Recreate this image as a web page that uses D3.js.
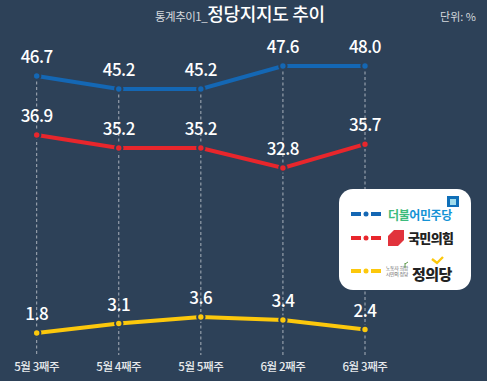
<!DOCTYPE html>
<html>
<head>
<meta charset="utf-8">
<script src="https://cdn.jsdelivr.net/npm/d3@7"></script>
<style>
html, body { margin: 0; padding: 0; background: #2d4158; }
text { font-family: "Noto Sans CJK KR", "Noto Sans", sans-serif; }
</style>
</head>
<body>
<svg id="chart" width="487" height="381"></svg>
<script>
var weeks = ['5월 3째주', '5월 4째주', '5월 5째주', '6월 2째주', '6월 3째주'];
var minjoo = [46.7, 45.2, 45.2, 47.6, 48.0];
var ppp = [36.9, 35.2, 35.2, 32.8, 35.7];
var justice = [1.8, 3.1, 3.6, 3.4, 2.4];

var blue = '#1467b4', red = '#e8262c', yellow = '#fcc80c', bg = '#2d4158';

var svg = d3.select('#chart');
svg.append('rect').attr('width', 487).attr('height', 381).attr('fill', bg);

var x = d3.scalePoint().domain(weeks).range([36.7, 365]);

// the original's vertical axis is not even, so it is piecewise
var y = d3.scaleLinear()
    .domain([1.8, 2.4, 3.1, 3.4, 3.6, 32.8, 35.2, 36.9, 45.2, 46.7, 47.6, 48])
    .range([333, 329.5, 323.5, 320, 317, 168, 148, 135, 89, 76, 66, 66]);

var series = [minjoo, ppp, justice];
var seriesColors = [blue, red, yellow];

// dashed drop lines
svg.selectAll('.drop').data(weeks).enter().append('line')
    .attr('x1', function (d) { return x(d); })
    .attr('x2', function (d) { return x(d); })
    .attr('y1', function (d, i) { return y(minjoo[i]); })
    .attr('y2', 355)
    .attr('stroke', '#a9b1bb')
    .attr('stroke-width', 1)
    .attr('stroke-dasharray', '3,2.5');

var line = d3.line()
    .x(function (d, i) { return x(weeks[i]); })
    .y(function (d) { return y(d); });

series.forEach(function (values, k) {
    var color = seriesColors[k];

    svg.append('path')
        .attr('d', line(values))
        .attr('fill', 'none')
        .attr('stroke', color)
        .attr('stroke-width', 4);

    svg.selectAll(null).data(values).enter().append('circle')
        .attr('cx', function (d, i) { return x(weeks[i]); })
        .attr('cy', function (d) { return y(d); })
        .attr('r', 3.7)
        .attr('fill', color)
        .attr('stroke', bg)
        .attr('stroke-width', 2);

    svg.selectAll(null).data(values).enter().append('text')
        .attr('x', function (d, i) { return x(weeks[i]); })
        .attr('y', function (d) { return y(d) - 13; })
        .attr('text-anchor', 'middle')
        .attr('fill', '#fff')
        .attr('font-size', 17)
        .attr('font-weight', 500)
        .attr('letter-spacing', -0.5)
        .text(function (d) { return d.toFixed(1); });
});

// week labels
svg.selectAll('.week').data(weeks).enter().append('text')
    .attr('x', function (d) { return x(d); })
    .attr('y', 370.5)
    .attr('text-anchor', 'middle')
    .attr('fill', '#e6e9ec')
    .attr('font-size', 11.5)
    .attr('font-weight', 500)
    .attr('letter-spacing', -0.4)
    .text(function (d) { return d; });

// title
var title = svg.append('text').attr('x', 155).attr('y', 21).attr('fill', '#d5d9de');
title.append('tspan').attr('font-size', 11.5).attr('letter-spacing', -0.5).text('통계추이1_');
title.append('tspan').attr('font-size', 18).attr('fill', '#fff').attr('font-weight', 500).attr('letter-spacing', -0.3).text('정당지지도 추이');

svg.append('text').attr('x', 476).attr('y', 21).attr('text-anchor', 'end')
    .attr('fill', '#d5d9de').attr('font-size', 11).text('단위: %');

// legend box
var legend = svg.append('g');
legend.append('rect').attr('x', 339).attr('y', 189).attr('width', 132).attr('height', 101)
    .attr('rx', 14).attr('fill', '#fff');

var legendY = [214, 238, 271];
var legendColors = [blue, red, yellow];
legendColors.forEach(function (c, i) {
    var ly = legendY[i];
    legend.append('rect').attr('x', 351).attr('y', ly - 2).attr('width', 10).attr('height', 4).attr('fill', c);
    legend.append('rect').attr('x', 371).attr('y', ly - 2).attr('width', 10).attr('height', 4).attr('fill', c);
    legend.append('circle').attr('cx', 366).attr('cy', ly).attr('r', 2.5).attr('fill', c);
});

var minjooText = legend.append('text').attr('x', 388).attr('y', 219.5)
    .attr('font-size', 12).attr('font-weight', 700).attr('letter-spacing', -0.4);
minjooText.append('tspan').attr('fill', '#3dbb7c').text('더불');
minjooText.append('tspan').attr('fill', '#1593d6').text('어민주당');
legend.append('rect').attr('x', 447).attr('y', 196).attr('width', 12).attr('height', 11).attr('fill', '#0f6fb8');
legend.append('rect').attr('x', 450).attr('y', 199).attr('width', 6).attr('height', 6).attr('fill', '#9fdcec');

legend.append('path').attr('d', 'M394,230 L404,230 L404,240 L398,246 L388,246 L388,236 Z').attr('fill', '#e1333c');
legend.append('text').attr('x', 408).attr('y', 243).attr('fill', '#222')
    .attr('font-size', 13).attr('font-weight', 900).attr('letter-spacing', -0.6).text('국민의힘');

legend.append('text').attr('x', 408).attr('y', 270).attr('text-anchor', 'end').attr('fill', '#666')
    .attr('font-size', 5).attr('letter-spacing', -0.3).text('노동자 희망');
legend.append('text').attr('x', 408).attr('y', 276).attr('text-anchor', 'end').attr('fill', '#666')
    .attr('font-size', 5).attr('letter-spacing', -0.3).text('시민의 정당');
legend.append('path').attr('d', 'M405,268 L405,263 M405,264 L408,262').attr('fill', 'none')
    .attr('stroke', '#4e8f3a').attr('stroke-width', 0.9);
legend.append('text').attr('x', 412).attr('y', 280).attr('fill', '#222')
    .attr('font-size', 15).attr('font-weight', 900).attr('letter-spacing', -0.6).text('정의당');
legend.append('path').attr('d', 'M432,259 L437,263 L443,257').attr('fill', 'none')
    .attr('stroke', yellow).attr('stroke-width', 2.4);
</script>
</body>
</html>
